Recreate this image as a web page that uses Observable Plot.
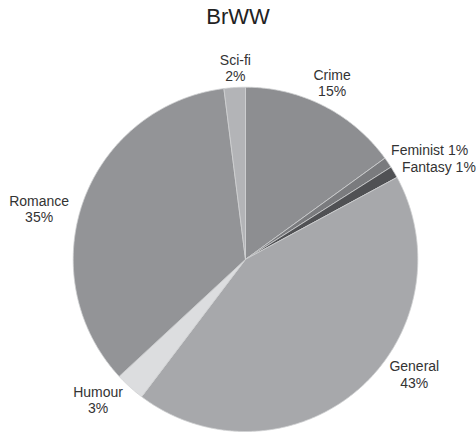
<!DOCTYPE html>
<html>
<head>
<meta charset="utf-8">
<script src="https://cdn.jsdelivr.net/npm/d3@7"></script>
<script src="https://cdn.jsdelivr.net/npm/@observablehq/plot@0.6"></script>
<style>
  html, body { margin: 0; padding: 0; background: #fff; }
  #title { font-family: "Liberation Sans", Arial, sans-serif; font-size: 22px; line-height: 34px; height: 34px; text-align: center; color: #222; width: 476px; }
  svg { display: block; }
</style>
</head>
<body>
<div id="title">BrWW</div>
<div id="chart"></div>
<script>
// Data
const categories = ["Crime", "Feminist", "Fantasy", "General", "Humour", "Romance", "Sci-fi"];
const values = [15, 1, 1.1, 43.2, 2.8, 34.9, 2];
const colors = ["#8d8e91", "#7a7b7e", "#505154", "#a7a8ab", "#dcdddf", "#939497", "#b3b4b7"];

// Label layout (pixel nudges from the mid-angle anchor)
const labelLayout = {
  "Crime":    {dx: -1,  dy: 8.5, anchor: "middle", single: false},
  "Feminist": {dx: -14, dy: 4,   anchor: "start",  single: true},
  "Fantasy":  {dx: -10, dy: 10,  anchor: "start",  single: true},
  "General":  {dx: 43,  dy: -18, anchor: "middle", single: false},
  "Humour":   {dx: -18, dy: 11,  anchor: "middle", single: false},
  "Romance":  {dx: -25, dy: 28.5,anchor: "middle", single: false},
  "Sci-fi":   {dx: 2,   dy: 14,  anchor: "middle", single: false}
};

const total = d3.sum(values);
const pie = d3.pie().sort(null).value(d => d.value).startAngle(0).endAngle(2 * Math.PI);
const arcs = pie(categories.map((c, i) => ({key: c, value: values[i]})));

// slice polygons
const pts = [];
arcs.forEach(a => {
  const k = a.data.key;
  pts.push({key: k, x: 0, y: 0});
  const n = Math.max(2, Math.ceil((a.endAngle - a.startAngle) / (Math.PI / 360)));
  for (let j = 0; j <= n; j++) {
    const t = a.startAngle + (a.endAngle - a.startAngle) * j / n;
    pts.push({key: k, x: Math.sin(t), y: Math.cos(t)});
  }
  pts.push({key: k, x: 0, y: 0});
});

const labelR = 1.12;
const textMarks = arcs.map(a => {
  const k = a.data.key;
  const L = labelLayout[k];
  const mid = (a.startAngle + a.endAngle) / 2;
  const pct = Math.round(a.data.value / total * 100);
  const txt = L.single ? `${k} ${pct}%` : `${k}\n${pct}%`;
  return Plot.text([{x: Math.sin(mid) * labelR, y: Math.cos(mid) * labelR, t: txt}], {
    x: "x", y: "y", text: "t",
    dx: L.dx, dy: L.dy,
    textAnchor: L.anchor,
    lineAnchor: "bottom",
    lineHeight: 1.15,
    fontSize: 14,
    fill: "#333"
  });
});

const chart = Plot.plot({
  width: 476,
  height: 399,
  marginLeft: 72.7,
  marginRight: 58.7,
  marginTop: 52.7,
  marginBottom: 2,
  x: {domain: [-1, 1], axis: null},
  y: {domain: [-1, 1], axis: null},
  color: {domain: categories, range: colors},
  style: {fontFamily: "'Liberation Sans', Arial, sans-serif", overflow: "visible", background: "#fff"},
  marks: [
    Plot.line(pts, {x: "x", y: "y", z: "key", fill: "key", stroke: "#cfd0d2", strokeWidth: 0.8, curve: "linear"}),
    ...textMarks
  ]
});
document.getElementById("chart").appendChild(chart);
</script>
</body>
</html>
